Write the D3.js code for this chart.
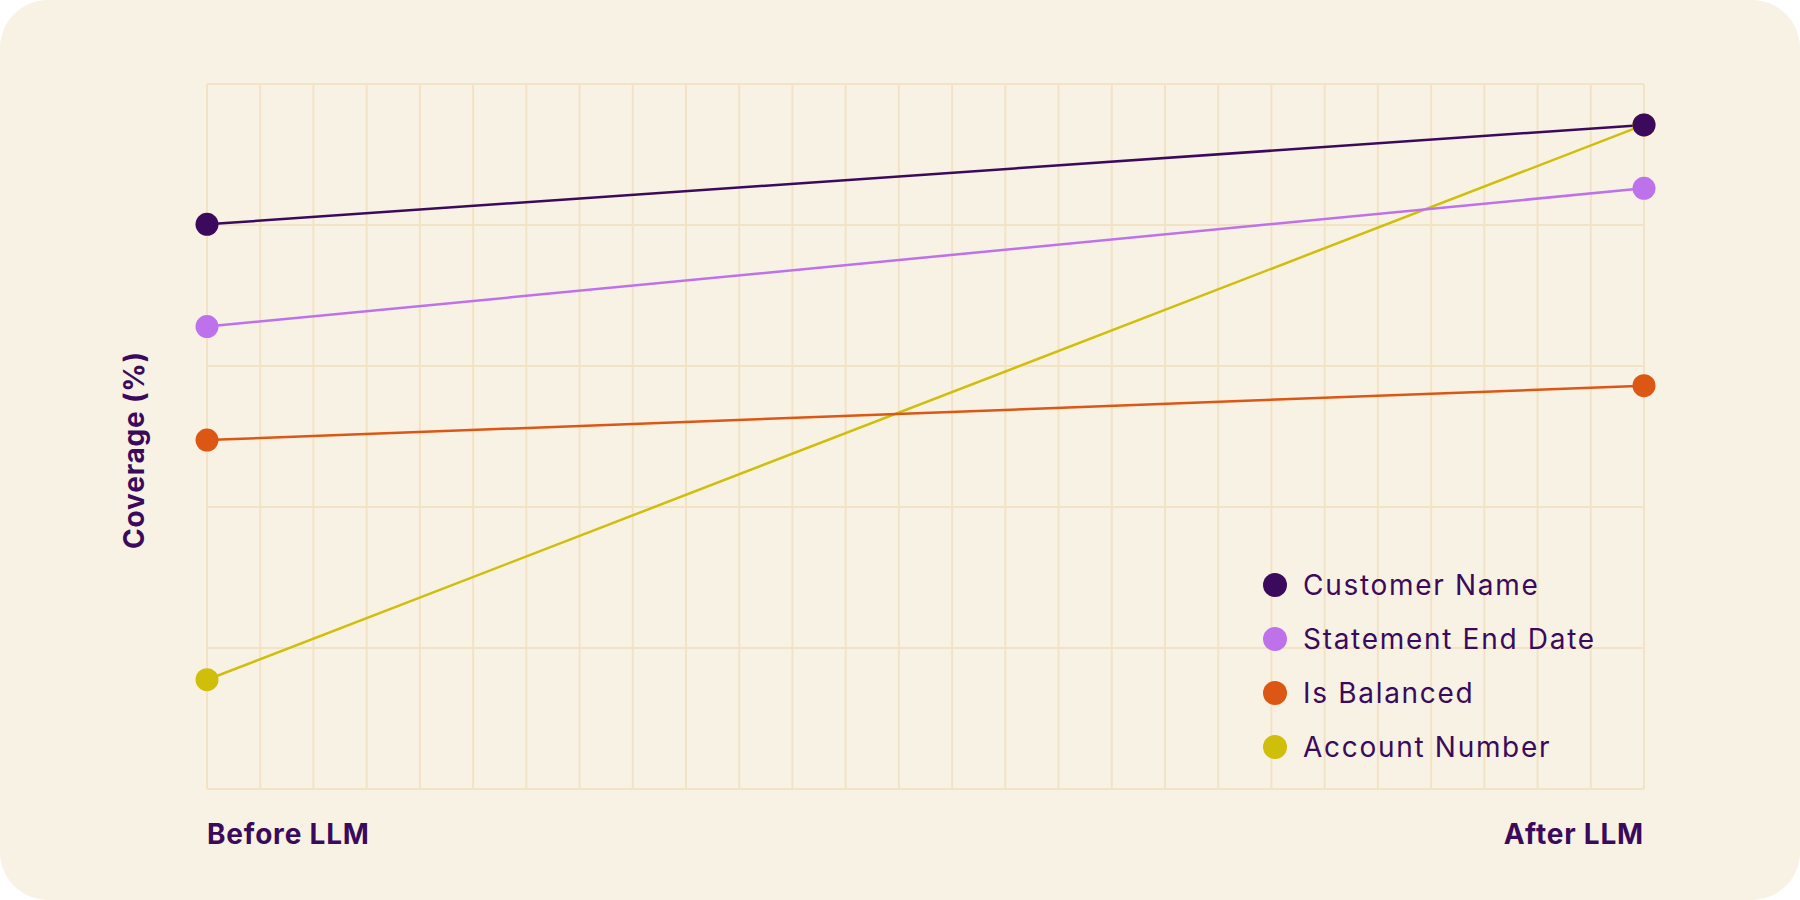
<!DOCTYPE html>
<html>
<head>
<meta charset="utf-8">
<script src="https://cdn.jsdelivr.net/npm/d3@7"></script>
<style>
  html, body { margin: 0; padding: 0; background: #ffffff; }
  svg { display: block; }
  text { font-family: Inter, "Noto Sans", sans-serif; }
</style>
</head>
<body>
<svg id="chart" width="1800" height="900"></svg>
<script>
const stages = ["Before LLM", "After LLM"];
const seriesNames = ["Customer Name", "Statement End Date", "Is Balanced", "Account Number"];
const seriesColors = ["#3b0a5c", "#bd72ec", "#dc5614", "#d0bf0a"];
const customerName = [80.1, 94.2];
const statementEndDate = [65.6, 85.2];
const isBalanced = [49.5, 57.2];
const accountNumber = [15.5, 94.2];
const yTicks = [0, 20, 40, 60, 80, 100];
const verticalGridCount = 27;

const seriesValues = [customerName, statementEndDate, isBalanced, accountNumber];

const W = 1800, H = 900;
const margin = { left: 207, right: W - 1644, top: 84, bottom: H - 789 };
const svg = d3.select("#chart");

svg.append("rect").attr("x", 0).attr("y", 0).attr("width", W).attr("height", H)
  .attr("rx", 48).attr("ry", 48).attr("fill", "#f8f2e4");

const x = d3.scalePoint().domain(stages).range([margin.left, W - margin.right]);
const xg = d3.scaleLinear().domain([0, verticalGridCount]).range([margin.left, W - margin.right]);
const y = d3.scaleLinear().domain([0, 100]).range([H - margin.bottom, margin.top]);

const grid = svg.append("g").attr("stroke", "#f3e3c6").attr("stroke-width", 2);
grid.selectAll("line.v").data(d3.range(verticalGridCount + 1)).join("line")
  .attr("class", "v")
  .attr("x1", d => xg(d)).attr("x2", d => xg(d))
  .attr("y1", y(100)).attr("y2", y(0));
grid.selectAll("line.h").data(yTicks).join("line")
  .attr("class", "h")
  .attr("x1", xg(0)).attr("x2", xg(verticalGridCount))
  .attr("y1", d => y(d)).attr("y2", d => y(d));

const data = seriesNames.map((name, i) => ({
  name, color: seriesColors[i],
  points: stages.map((s, j) => ({ stage: s, value: seriesValues[i][j] }))
}));

const line = d3.line().x(d => x(d.stage)).y(d => y(d.value));

const drawOrder = [3, 2, 1, 0];
const lines = svg.append("g");
drawOrder.forEach(i => {
  lines.append("path").datum(data[i].points)
    .attr("d", line).attr("fill", "none")
    .attr("stroke", data[i].color).attr("stroke-width", 2.5);
});
const pts = svg.append("g");
drawOrder.forEach(i => {
  pts.selectAll(null).data(data[i].points).join("circle")
    .attr("cx", d => x(d.stage)).attr("cy", d => y(d.value)).attr("r", 11.5)
    .attr("fill", data[i].color);
});

// axis labels
const ink = "#3b0a5c";
svg.append("text").text(stages[0])
  .attr("x", x(stages[0])).attr("y", 843.5)
  .attr("font-size", 28).attr("font-weight", 700).attr("letter-spacing", 0.8).attr("fill", ink);
svg.append("text").text(stages[1])
  .attr("x", x(stages[1])).attr("y", 843.5).attr("text-anchor", "end")
  .attr("font-size", 28).attr("font-weight", 700).attr("letter-spacing", 0.8).attr("fill", ink);

svg.append("text").text("Coverage (%)")
  .attr("transform", "translate(144,450) rotate(-90)")
  .attr("text-anchor", "middle")
  .attr("font-size", 28).attr("font-weight", 700).attr("letter-spacing", 0.8).attr("fill", ink);

// legend
const legend = svg.append("g");
const lg = legend.selectAll("g").data(data).join("g")
  .attr("transform", (d, i) => `translate(1275,${585 + i * 54})`);
lg.append("circle").attr("r", 12).attr("fill", d => d.color);
lg.append("text").text(d => d.name)
  .attr("x", 28).attr("y", 0).attr("dy", "0.36em")
  .attr("font-size", 28).attr("letter-spacing", 1.7).attr("fill", ink);
</script>
</body>
</html>
